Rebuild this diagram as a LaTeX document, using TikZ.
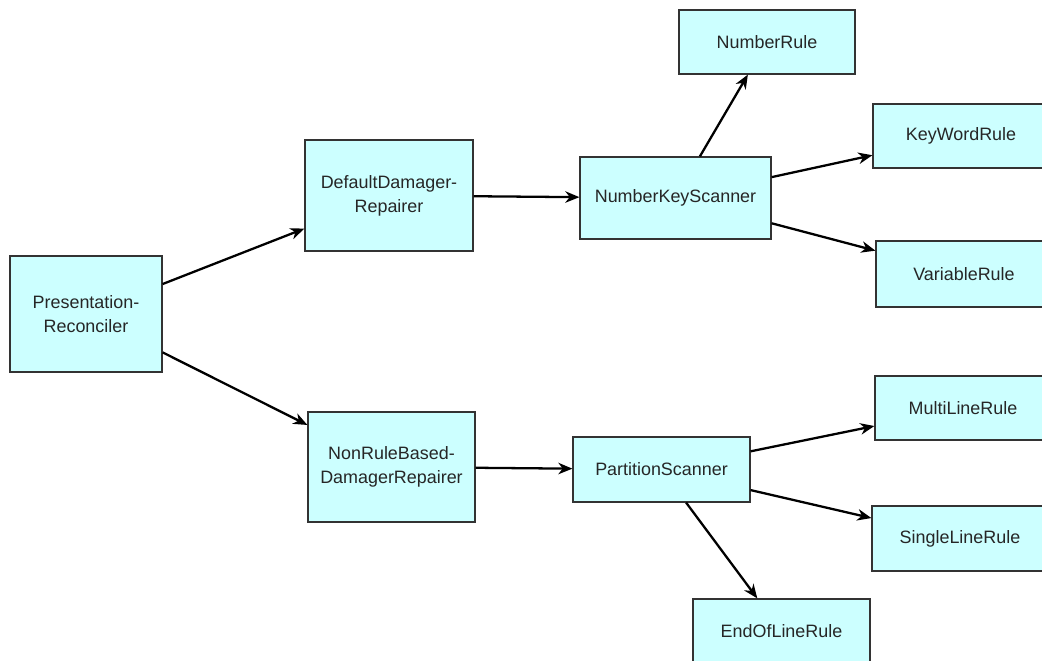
\documentclass[tikz,border=0pt]{standalone}
\usepackage{fontspec}
\setmainfont{Liberation Sans}
\usetikzlibrary{arrows.meta}
\definecolor{boxfill}{HTML}{CCFFFF}
\definecolor{boxline}{HTML}{333333}

\begin{document}
\begin{tikzpicture} [x=0.02cm, y=-0.02cm,
  box/.style 2 args={draw=boxline, fill=boxfill, line width=0.7pt, inner sep=0,
    minimum width=#1*0.2mm, minimum height=#2*0.2mm, align=center, text=black!85,
    font=\fontsize{10.2}{13.6}\selectfont},
  link/.style={black, line width=1.3pt, ->, >={Stealth[length=8pt, width=6.5pt, inset=2.5pt]}}]
\useasboundingbox (0,0) rectangle (1042,661);
\clip (0,0) rectangle (1042,661);
\node[box={152}{116}] (pr)  at (86,314)    {Presentation-\\Reconciler};
\node[box={168}{111}] (ddr) at (389,195.5) {DefaultDamager-\\Repairer};
\node[box={167}{110}] (nrb) at (391.5,467) {NonRuleBased-\\DamagerRepairer};
\node[box={191}{82}]  (nks) at (675.5,198) {NumberKeyScanner};
\node[box={177}{65}]  (ps)  at (661.5,469.5) {PartitionScanner};
% rules
\node[box={176}{64}] (nr)  at (767,42)    {NumberRule};
\node[box={176}{64}] (kwr) at (961,136)   {KeyWordRule};
\node[box={176}{66}] (vr)  at (964,274)   {VariableRule};
\node[box={176}{64}] (mlr) at (963,408)   {MultiLineRule};
\node[box={176}{65}] (slr) at (960,538.5) {SingleLineRule};
\node[box={177}{64}] (eol) at (781.5,631) {EndOfLineRule};
\foreach \a/\b in {pr/ddr, pr/nrb, ddr/nks, nrb/ps, nks/nr, nks/kwr, nks/vr, ps/mlr, ps/slr, ps/eol} {
 \draw[link] (\a) -- (\b);
}
\end{tikzpicture}
\end{document}
